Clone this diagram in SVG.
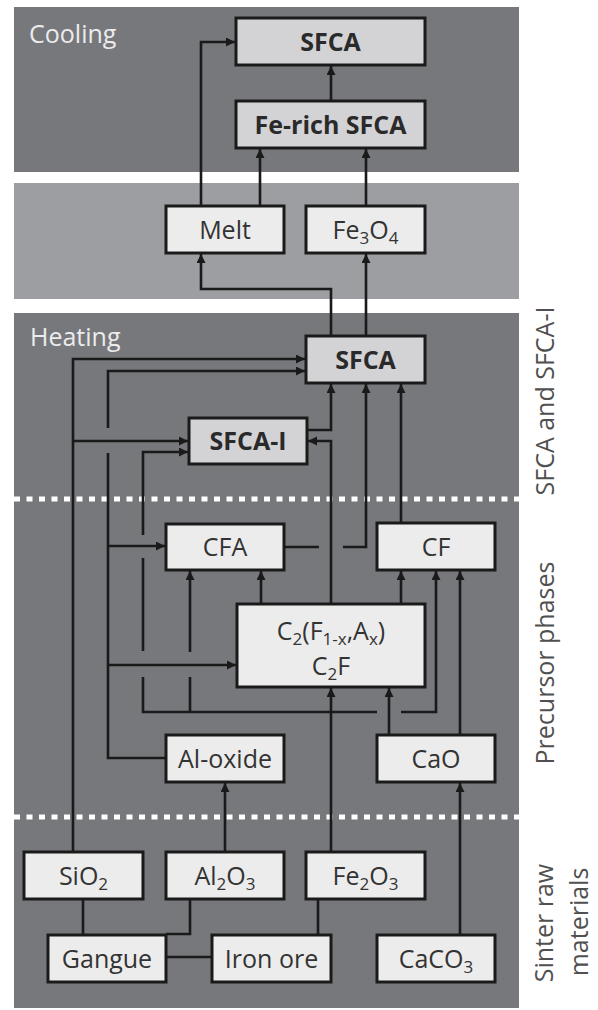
<svg xmlns="http://www.w3.org/2000/svg" width="598" height="1010" viewBox="0 0 598 1010">
<style>
.panel{fill:#77787c}
.panel2{fill:#9d9ea2}
.dots{stroke:#ffffff;stroke-width:5;stroke-dasharray:6 6.5;fill:none}
.bx{fill:#ececec;stroke:#1a1a1a;stroke-width:3}
.bxs{fill:#d3d3d5;stroke:#1a1a1a;stroke-width:3}
.t{font-family:"Open Sans","Liberation Sans",sans-serif;font-size:25px;fill:#333333;text-anchor:middle}
.tb{font-family:"Open Sans","Liberation Sans",sans-serif;font-size:25px;font-weight:bold;fill:#2a2a2a;text-anchor:middle}
.pl{font-family:"Open Sans","Liberation Sans",sans-serif;font-size:25px;fill:#ececec}
.side{font-family:"Open Sans","Liberation Sans",sans-serif;font-size:25px;fill:#505050;text-anchor:middle}
.c{fill:none;stroke:#1a1a1a;stroke-width:2.6}
.a{marker-end:url(#ah)}
</style>
<defs>
<marker id="ah" markerUnits="userSpaceOnUse" markerWidth="10" markerHeight="10" refX="9" refY="4.5" orient="auto">
<path d="M0,0 L9,4.5 L0,9 z" fill="#1a1a1a"/>
</marker>
</defs>

<g id="background">
<rect class="panel" x="14" y="7" width="505" height="165"/>
<rect class="panel2" x="14" y="183" width="505" height="116"/>
<rect class="panel" x="14" y="313" width="505" height="695"/>
<line class="dots" x1="14" y1="499" x2="519" y2="499"/>
<line class="dots" x1="14" y1="817" x2="519" y2="817"/>
<text class="pl" x="29" y="43">Cooling</text>
<text class="pl" x="30" y="346">Heating</text>
</g>

<g id="side-labels">
<text class="side" transform="translate(554,401) rotate(-90)">SFCA and SFCA-I</text>
<text class="side" transform="translate(554,663) rotate(-90)">Precursor phases</text>
<text class="side" transform="translate(553,923) rotate(-90)">Sinter raw</text>
<text class="side" transform="translate(588,922) rotate(-90)">materials</text>
</g>

<g id="connectors">
<path class="c a" d="M201,206 V42 H235"/>
<path class="c a" d="M260,206 V149"/>
<path class="c a" d="M366,206 V149"/>
<path class="c a" d="M331,101 V66"/>
<path class="c a" d="M331,336 V289 H201 V254"/>
<path class="c a" d="M366,336 V254"/>
<path class="c a" d="M73,852 V359 H305"/>
<path class="c a" d="M73,441 H188"/>
<path class="c" d="M166,758 H108 V453"/>
<path class="c a" d="M108,428 V371 H305"/>
<path class="c a" d="M108,546 H165"/>
<path class="c a" d="M108,665 H236"/>
<path class="c a" d="M306,430 H331 V384"/>
<path class="c a" d="M331,604 V441 H308"/>
<path class="c" d="M284,547 H319"/>
<path class="c a" d="M343,547 H366 V384"/>
<path class="c a" d="M401,523 V384"/>
<path class="c a" d="M261,604 V571"/>
<path class="c a" d="M401,604 V571"/>
<path class="c a" d="M143,535 V452 H188"/>
<path class="c" d="M143,558 V651"/>
<path class="c" d="M143,677 V712 H377"/>
<path class="c a" d="M401,712 H436 V571"/>
<path class="c a" d="M190,652 V571"/>
<path class="c" d="M190,677 V712"/>
<path class="c a" d="M331,852 V688"/>
<path class="c a" d="M389,735 V688"/>
<path class="c a" d="M460,735 V571"/>
<path class="c a" d="M225,852 V783"/>
<path class="c a" d="M460,935 V783"/>
<path class="c" d="M83,899 V935"/>
<path class="c" d="M190,899 V934 H166"/>
<path class="c" d="M166,957 H212"/>
<path class="c" d="M318,899 V935"/>
</g>

<g id="sfca-cooling"><rect class="bxs" x="236" y="18" width="189" height="47"/><text class="tb" x="330.5" y="50.5">SFCA</text></g>
<g id="fe-rich-sfca"><rect class="bxs" x="236" y="101" width="189" height="47"/><text class="tb" x="330.5" y="133.5">Fe-rich SFCA</text></g>
<g id="melt"><rect class="bx" x="166" y="206" width="118" height="47"/><text class="t" x="225" y="238.5">Melt</text></g>
<g id="fe3o4"><rect class="bx" x="306" y="206" width="119" height="47"/><text class="t" x="365.5" y="238.5">Fe<tspan font-size="17" dy="5">3</tspan><tspan dy="-5">O</tspan><tspan font-size="17" dy="5">4</tspan></text></g>
<g id="sfca-heating"><rect class="bxs" x="306" y="336" width="119" height="47"/><text class="tb" x="365.5" y="368.5">SFCA</text></g>
<g id="sfca-i"><rect class="bxs" x="189" y="418" width="118" height="46"/><text class="tb" x="248" y="450">SFCA-I</text></g>
<g id="cfa"><rect class="bx" x="166" y="524" width="118" height="46"/><text class="t" x="225" y="556">CFA</text></g>
<g id="cf"><rect class="bx" x="377" y="523" width="118" height="47"/><text class="t" x="436" y="555.5">CF</text></g>
<g id="c2f"><rect class="bx" x="237" y="604" width="188" height="83"/>
<text class="t" x="331" y="640">C<tspan font-size="17" dy="5">2</tspan><tspan dy="-5">(F</tspan><tspan font-size="17" dy="5">1-x</tspan><tspan dy="-5">,A</tspan><tspan font-size="17" dy="5">x</tspan><tspan dy="-5">)</tspan></text>
<text class="t" x="331" y="675">C<tspan font-size="17" dy="5">2</tspan><tspan dy="-5">F</tspan></text></g>
<g id="al-oxide"><rect class="bx" x="166" y="735" width="118" height="47"/><text class="t" x="225" y="767.5">Al-oxide</text></g>
<g id="cao"><rect class="bx" x="377" y="735" width="118" height="47"/><text class="t" x="436" y="767.5">CaO</text></g>
<g id="sio2"><rect class="bx" x="24" y="852" width="119" height="47"/><text class="t" x="83.5" y="884.5">SiO<tspan font-size="17" dy="5">2</tspan></text></g>
<g id="al2o3"><rect class="bx" x="166" y="852" width="118" height="47"/><text class="t" x="225" y="884.5">Al<tspan font-size="17" dy="5">2</tspan><tspan dy="-5">O</tspan><tspan font-size="17" dy="5">3</tspan></text></g>
<g id="fe2o3"><rect class="bx" x="306" y="852" width="119" height="47"/><text class="t" x="365.5" y="884.5">Fe<tspan font-size="17" dy="5">2</tspan><tspan dy="-5">O</tspan><tspan font-size="17" dy="5">3</tspan></text></g>
<g id="gangue"><rect class="bx" x="48" y="935" width="118" height="47"/><text class="t" x="107" y="967.5">Gangue</text></g>
<g id="iron-ore"><rect class="bx" x="212" y="935" width="119" height="47"/><text class="t" x="271.5" y="967.5">Iron ore</text></g>
<g id="caco3"><rect class="bx" x="377" y="935" width="118" height="47"/><text class="t" x="436" y="967.5">CaCO<tspan font-size="17" dy="5">3</tspan></text></g>
</svg>
